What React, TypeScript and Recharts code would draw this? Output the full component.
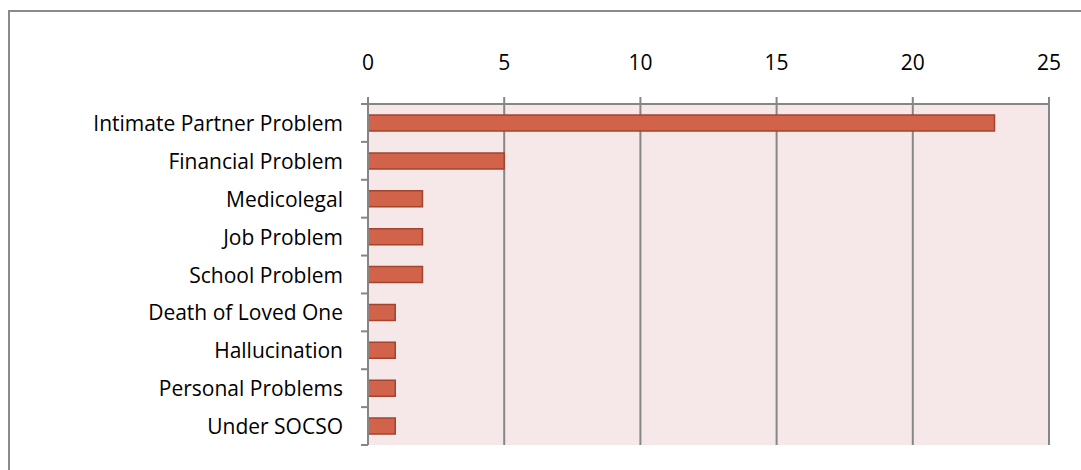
import React from "react";
import { BarChart, Bar, XAxis, YAxis, CartesianGrid } from "recharts";

const categories = [
  "Intimate Partner Problem",
  "Financial Problem",
  "Medicolegal",
  "Job Problem",
  "School Problem",
  "Death of Loved One",
  "Hallucination",
  "Personal Problems",
  "Under SOCSO",
];
const counts = [23, 5, 2, 2, 2, 1, 1, 1, 1];
const xTicks = [0, 5, 10, 15, 20, 25];

const data = categories.map((name, i) => ({ name, value: counts[i] }));

const W = 1081;
const H = 470;
const PLOT_LEFT = 368;
const PLOT_TOP = 104;
const PLOT_RIGHT = 1049;
const PLOT_BOTTOM = 445;
const BAND = (PLOT_BOTTOM - PLOT_TOP) / categories.length;
const AXIS = "#868686";
const FONT = "'Open Sans', sans-serif";
const FS = 21;

const YTick = (props: any) => {
  const { y, payload, index } = props;
  return (
    <g>
      <text
        x={PLOT_LEFT - 25}
        y={y}
        textAnchor="end"
        dominantBaseline="central"
        fill="#000"
        fontSize={FS}
        fontFamily={FONT}
      >
        {payload.value}
      </text>
      <line x1={PLOT_LEFT - 7} x2={PLOT_LEFT} y1={y - BAND / 2} y2={y - BAND / 2} stroke={AXIS} strokeWidth={2} />
      {index === categories.length - 1 && (
        <line x1={PLOT_LEFT - 7} x2={PLOT_LEFT} y1={y + BAND / 2} y2={y + BAND / 2} stroke={AXIS} strokeWidth={2} />
      )}
    </g>
  );
};

export default function App() {
  return (
    <div style={{ position: "absolute", left: 0, top: 0, width: W, height: H, overflow: "hidden", background: "#fff" }}>
      <style>{`html,body{margin:0;padding:0;overflow:hidden;background:#fff}`}</style>
      <div
        style={{
          position: "absolute",
          left: 8,
          top: 10,
          width: 1200,
          height: 600,
          border: "2px solid #8a8a8a",
          boxSizing: "border-box",
        }}
      />
      <div style={{ position: "absolute", left: 0, top: 0 }}>
        <BarChart
          width={W}
          height={H}
          data={data}
          layout="vertical"
          margin={{ top: 0, left: 0, right: W - PLOT_RIGHT, bottom: H - PLOT_BOTTOM }}
          barSize={16}
        >
          <CartesianGrid
            horizontal={false}
            vertical={true}
            stroke={AXIS}
            strokeWidth={2}
            fill="#F6E8E8"
            fillOpacity={1}
          />
          <XAxis
            type="number"
            orientation="top"
            domain={[0, 25]}
            ticks={xTicks}
            interval={0}
            height={PLOT_TOP}
            axisLine={{ stroke: AXIS, strokeWidth: 2 }}
            tickLine={{ stroke: AXIS, strokeWidth: 2 }}
            tickSize={7}
            tickMargin={27}
            tick={{ fill: "#000", fontSize: FS, fontFamily: FONT }}
          />
          <YAxis
            type="category"
            dataKey="name"
            width={PLOT_LEFT}
            interval={0}
            axisLine={{ stroke: AXIS, strokeWidth: 2 }}
            tickLine={false}
            tick={<YTick />}
          />
          <Bar dataKey="value" fill="#D0634A" stroke="#A4432E" strokeWidth={1.5} isAnimationActive={false} />
        </BarChart>
      </div>
    </div>
  );
}
